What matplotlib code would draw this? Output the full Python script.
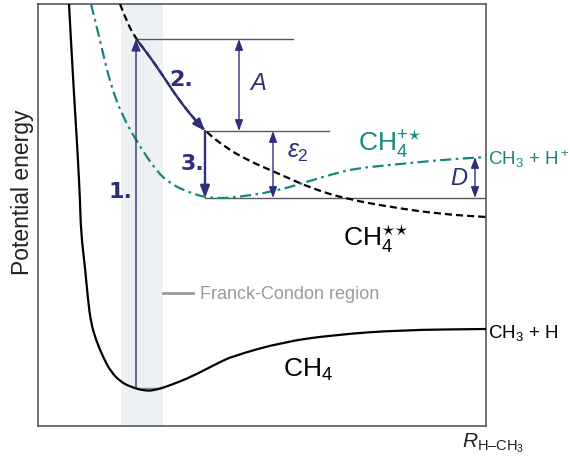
import matplotlib
matplotlib.use("Agg")
import matplotlib.pyplot as plt
from matplotlib.path import Path
from matplotlib.patches import PathPatch, FancyArrowPatch

plt.rcParams["font.family"] = ["Liberation Sans", "DejaVu Sans"]
plt.rcParams["mathtext.fontset"] = "custom"
plt.rcParams["mathtext.rm"] = "Liberation Sans"
plt.rcParams["mathtext.it"] = "Liberation Sans:italic"
plt.rcParams["mathtext.bf"] = "Liberation Sans:bold"

# Potential energy curves (R = bond length, E = energy; arbitrary units)
ch4_R = [31, 34, 37, 40, 42, 43, 47, 50, 53, 58, 65, 73, 83, 93, 107, 118, 133, 153, 180,
         195, 245, 295, 362, 448]
ch4_E = [422, 366, 316, 266, 226, 193, 159, 126, 103, 86, 69, 54, 44, 39, 35, 36, 41, 49, 63,
         70, 84, 91, 96, 97]

ch4ex_R = [82, 90, 99, 109, 119, 129, 139, 152, 167, 187, 209, 239, 275, 309, 352, 402, 448]
ch4ex_E = [422, 401, 386, 373, 359, 344, 329, 312, 295, 279, 266, 253, 237, 227, 219, 212, 209]

ion_R = [53, 62, 72, 84, 99, 119, 132, 145, 165, 177, 192, 235, 275, 302, 322, 352, 402, 448]
ion_E = [422, 386, 343, 311, 284, 254, 243, 236, 229, 228, 228, 234, 246, 254, 258, 261, 266, 269]

# Energy levels
ground_E = 38
vertical_E = 387      # top of vertical excitation (step 1)
relaxed_E = 295       # after relaxation along CH4** (step 2)
ion_min_E = 228       # bottom of CH4+* well (step 3)
ion_limit_E = 269     # CH3 + H+ asymptote

R_excite = 98
R_relax = 167
fc_region = (83, 125)

NAVY = "#2e2f78"
TEAL = "#15877e"
LEVEL = "#5a5a5a"


def smooth_path(xs, ys):
    pts = list(zip(xs, ys))
    verts = [pts[0]]
    codes = [Path.MOVETO]
    for i in range(1, len(pts) - 1):
        mid = ((pts[i][0] + pts[i + 1][0]) / 2, (pts[i][1] + pts[i + 1][1]) / 2)
        verts += [pts[i], mid]
        codes += [Path.CURVE3, Path.CURVE3]
    verts.append(pts[-1])
    codes.append(Path.LINETO)
    return Path(verts, codes)


fig = plt.figure(figsize=(5.7, 4.57), dpi=100)
ax = fig.add_axes([38 / 570, 31 / 457, 448 / 570, 422 / 457])
ax.set_xlim(0, 448)
ax.set_ylim(0, 422)
ax.set_xticks([])
ax.set_yticks([])
for s in ax.spines.values():
    s.set_color("#4a4a4a")
    s.set_linewidth(1.1)

# Franck-Condon region
ax.axvspan(*fc_region, color="#edf1f3", zorder=0, lw=0)

# curves
ax.add_patch(PathPatch(smooth_path(ch4_R, ch4_E), fill=False, color="black", lw=1.6, zorder=3))
ax.add_patch(PathPatch(smooth_path(ch4ex_R, ch4ex_E), fill=False, color="black", lw=1.6,
                       linestyle=(0, (3.2, 1.8)), zorder=3))
ax.add_patch(PathPatch(smooth_path(ion_R, ion_E), fill=False, color=TEAL, lw=1.6,
                       linestyle=(0, (5, 2, 1.2, 2)), zorder=3))

# level lines
ax.plot([R_excite, 255], [vertical_E] * 2, color=LEVEL, lw=1.0, zorder=2)
ax.plot([R_relax, 291], [relaxed_E] * 2, color=LEVEL, lw=1.0, zorder=2)
ax.plot([R_relax, 448], [ion_min_E] * 2, color=LEVEL, lw=1.0, zorder=2)
ax.plot([R_excite, 122], [ground_E] * 2, color="#8a8a8a", lw=1.0, zorder=2)


def arrow(p0, p1, style, lw, ms=11):
    a = FancyArrowPatch(p0, p1, arrowstyle=style, mutation_scale=ms, color=NAVY,
                        lw=lw, shrinkA=0, shrinkB=0, zorder=5)
    ax.add_patch(a)


# step 1: vertical excitation
arrow((R_excite, ground_E), (R_excite, vertical_E), "-|>,head_length=0.65,head_width=0.25", 1.0)
# step 2: relaxation along CH4**
i0, i1 = ch4ex_R.index(99), ch4ex_R.index(167)
path2 = smooth_path(ch4ex_R[i0:i1 + 1], ch4ex_E[i0:i1 + 1])
ax.add_patch(FancyArrowPatch(path=path2, arrowstyle="-|>,head_length=0.65,head_width=0.25",
                             mutation_scale=11, color=NAVY, lw=1.7, zorder=5))
# step 3
arrow((R_relax, relaxed_E), (R_relax, ion_min_E), "-|>,head_length=0.65,head_width=0.25", 1.7)

# energy differences
dbl = "<|-|>,head_length=0.6,head_width=0.22"
arrow((201, vertical_E), (201, relaxed_E), dbl, 1.0)
arrow((235, relaxed_E), (235, ion_min_E), dbl, 1.0)
arrow((437, ion_limit_E), (437, ion_min_E), dbl, 1.0)

# labels
num_kw = dict(color=NAVY, fontsize=16, fontweight="bold", family="DejaVu Sans",
              ha="center", va="center", zorder=6)
ax.text(82, 234, "1.", **num_kw)
ax.text(143, 346, "2.", **num_kw)
ax.text(154, 262, "3.", **num_kw)

ax.text(220, 342, "$A$", color=NAVY, fontsize=17, ha="center", va="center")
ax.text(260, 274, r"$\varepsilon_2$", color=NAVY, fontsize=18, ha="center", va="center")
ax.text(421, 247, "$D$", color=NAVY, fontsize=17, ha="center", va="center")

ax.text(320, 276, r"CH$_4^{{+}{\star}}$", color=TEAL, fontsize=19, ha="left", va="baseline")
ax.text(305, 181, r"CH$_4^{{\star}{\star}}$", color="black", fontsize=19, ha="left",
        va="baseline")
ax.text(245, 49, r"CH$_4$", color="black", fontsize=19, ha="left", va="baseline")

ax.text(450, 261, r"CH$_3$ + H$^+$", color=TEAL, fontsize=13.5, ha="left", va="baseline",
        clip_on=False)
ax.text(450, 88, r"CH$_3$ + H", color="black", fontsize=13.5, ha="left", va="baseline",
        clip_on=False)

ax.plot([125, 155], [133, 133], color="#9a9a9a", lw=2.0)
ax.text(162, 127, "Franck-Condon region", color="#9a9a9a", fontsize=13, ha="left",
        va="baseline")

fig.text(23 / 570, 1 - 192 / 457, "Potential energy", rotation=90, fontsize=16.5,
         ha="center", va="center", color="#222222")
fig.text(462 / 570, 1 - 447 / 457, r"$R_{\mathrm{H–CH_3}}$", fontsize=15, ha="left",
         va="baseline", color="#222222")

fig.savefig("out.png", dpi=100)
